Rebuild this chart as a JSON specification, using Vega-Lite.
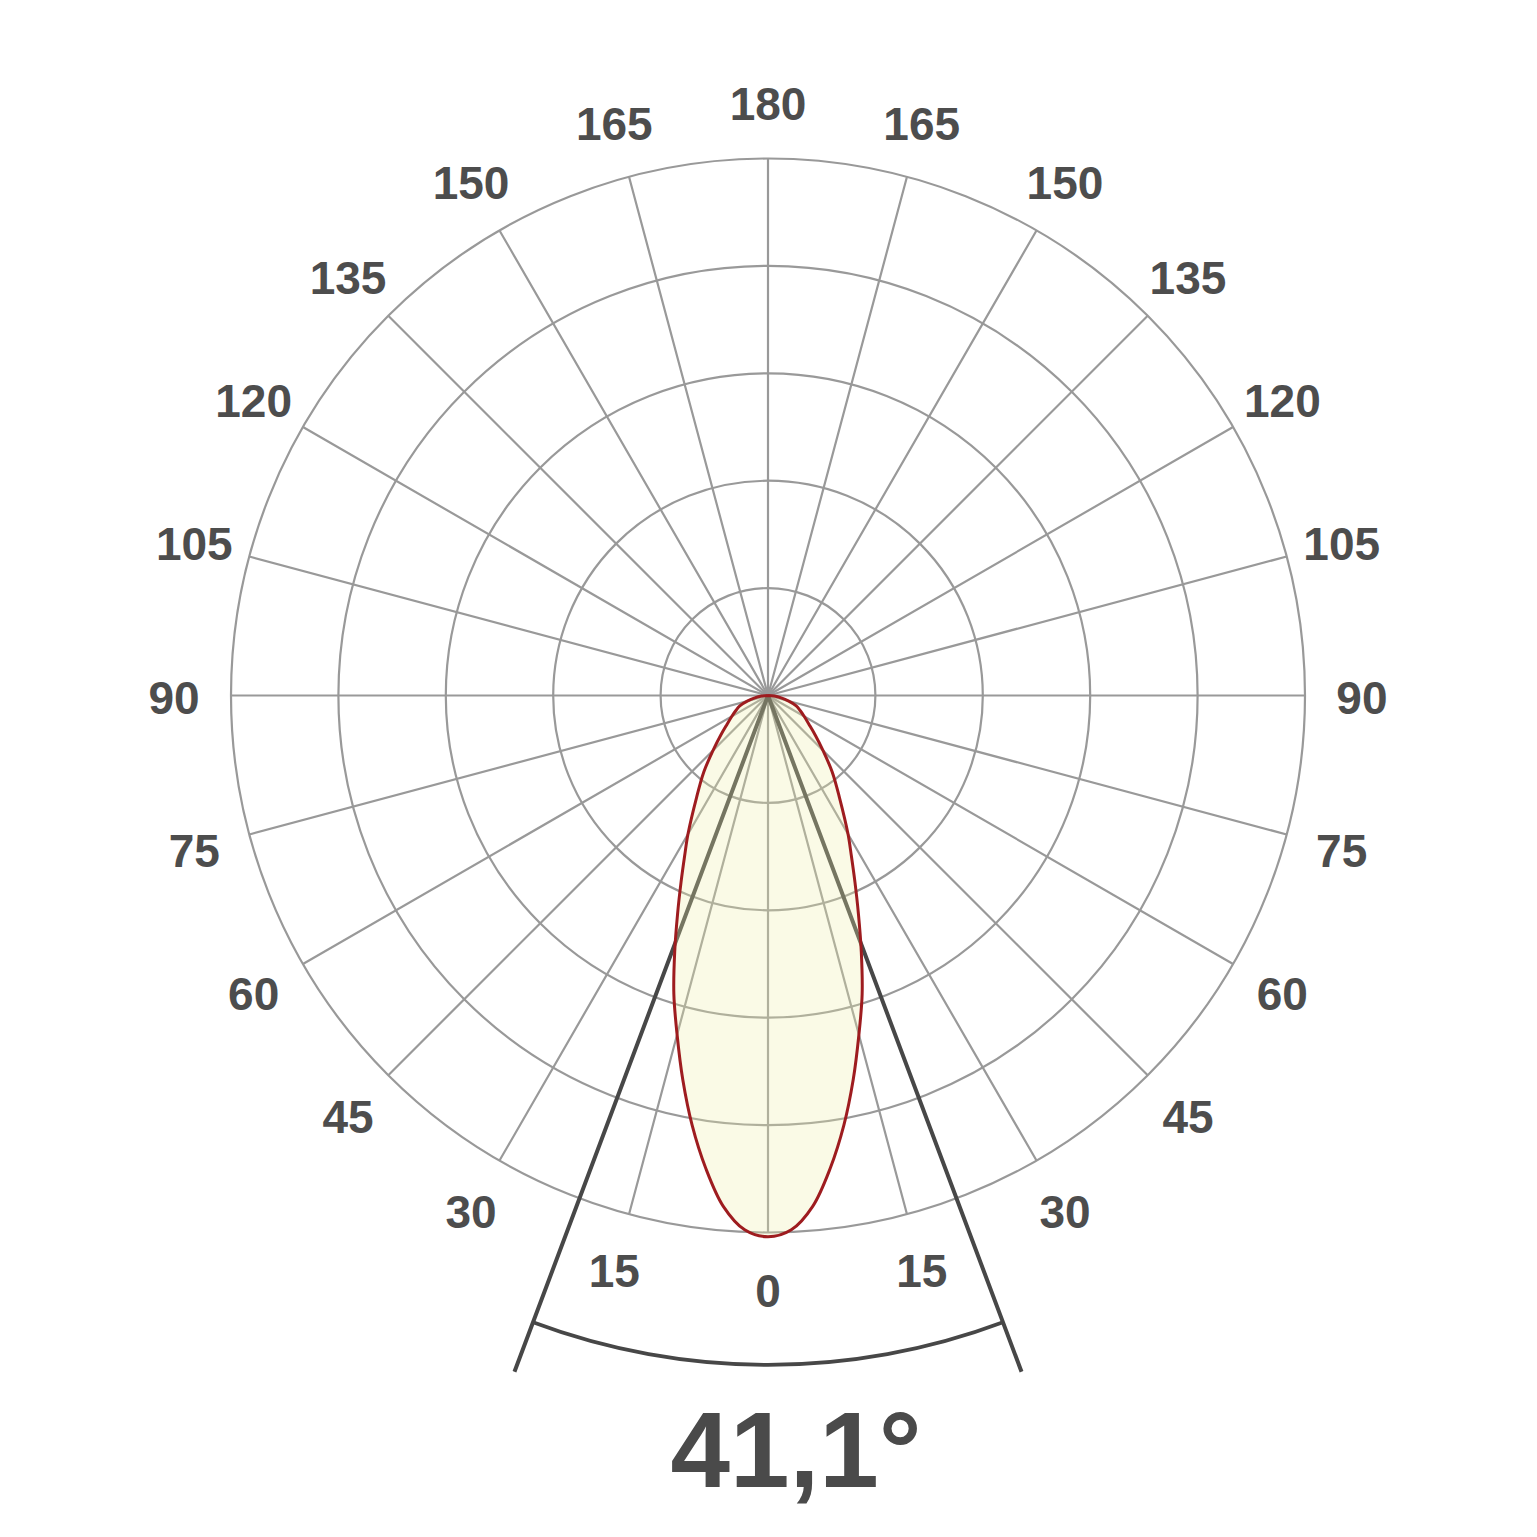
{
  "$schema": "https://vega.github.io/schema/vega-lite/v6.json",
  "width": 1536,
  "height": 1391,
  "autosize": {"type": "none"},
  "padding": {"left": 0, "top": 0, "right": 1, "bottom": 146},
  "background": "white",
  "config": {"view": {"stroke": null}},
  "datasets": {
    "rings": [{"r": 20}, {"r": 40}, {"r": 60}, {"r": 80}, {"r": 100}],
    "spokes": [
      {"g": -165}, {"g": -150}, {"g": -135}, {"g": -120}, {"g": -105}, {"g": -90},
      {"g": -75}, {"g": -60}, {"g": -45}, {"g": -30}, {"g": -15}, {"g": 0},
      {"g": 15}, {"g": 30}, {"g": 45}, {"g": 60}, {"g": 75}, {"g": 90},
      {"g": 105}, {"g": 120}, {"g": 135}, {"g": 150}, {"g": 165}, {"g": 180}
    ],
    "labels": [
      {"g": 0, "label": "0"}, {"g": 15, "label": "15"}, {"g": 30, "label": "30"},
      {"g": 45, "label": "45"}, {"g": 60, "label": "60"}, {"g": 75, "label": "75"},
      {"g": 90, "label": "90"}, {"g": 105, "label": "105"}, {"g": 120, "label": "120"},
      {"g": 135, "label": "135"}, {"g": 150, "label": "150"}, {"g": 165, "label": "165"},
      {"g": 180, "label": "180"},
      {"g": -15, "label": "15"}, {"g": -30, "label": "30"}, {"g": -45, "label": "45"},
      {"g": -60, "label": "60"}, {"g": -75, "label": "75"}, {"g": -90, "label": "90"},
      {"g": -105, "label": "105"}, {"g": -120, "label": "120"}, {"g": -135, "label": "135"},
      {"g": -150, "label": "150"}, {"g": -165, "label": "165"}
    ],
    "beam": [{"g": -20.55}, {"g": 20.55}],
    "beamLabel": [{"text": "41,1°"}],
    "lobe": [
      {"g": -90, "cd": 0}, {"g": -85, "cd": 1.2}, {"g": -80, "cd": 2.5}, {"g": -75, "cd": 4.0},
      {"g": -70, "cd": 5.6}, {"g": -65, "cd": 6.6}, {"g": -60, "cd": 7.8}, {"g": -55, "cd": 9.3},
      {"g": -50, "cd": 11.5}, {"g": -45, "cd": 14.5}, {"g": -40, "cd": 18.6}, {"g": -35, "cd": 23.2},
      {"g": -30, "cd": 29.8}, {"g": -27.5, "cd": 33.6}, {"g": -25, "cd": 38.3}, {"g": -22.5, "cd": 44.0},
      {"g": -20, "cd": 50.8}, {"g": -17.5, "cd": 58.3}, {"g": -15, "cd": 65.4}, {"g": -12.5, "cd": 73.3},
      {"g": -10, "cd": 81.3}, {"g": -7.5, "cd": 88.8}, {"g": -5, "cd": 95.5}, {"g": -2.5, "cd": 99.6},
      {"g": 0, "cd": 100.8},
      {"g": 2.5, "cd": 99.6}, {"g": 5, "cd": 95.5}, {"g": 7.5, "cd": 88.8}, {"g": 10, "cd": 81.3},
      {"g": 12.5, "cd": 73.3}, {"g": 15, "cd": 65.4}, {"g": 17.5, "cd": 58.3}, {"g": 20, "cd": 50.8},
      {"g": 22.5, "cd": 44.0}, {"g": 25, "cd": 38.3}, {"g": 27.5, "cd": 33.6}, {"g": 30, "cd": 29.8},
      {"g": 35, "cd": 23.2}, {"g": 40, "cd": 18.6}, {"g": 45, "cd": 14.5}, {"g": 50, "cd": 11.5},
      {"g": 55, "cd": 9.3}, {"g": 60, "cd": 7.8}, {"g": 65, "cd": 6.6}, {"g": 70, "cd": 5.6},
      {"g": 75, "cd": 4.0}, {"g": 80, "cd": 2.5}, {"g": 85, "cd": 1.2}, {"g": 90, "cd": 0}
    ]
  },
  "layer": [
    {
      "data": {"name": "rings"},
      "mark": {"type": "arc", "filled": false, "stroke": "#999999", "strokeWidth": 2.2},
      "encoding": {
        "theta": {"datum": -180, "type": "quantitative", "stack": null, "scale": {"type": "linear", "domain": [-180, 180], "range": [6.283185307179586, 0]}},
        "theta2": {"datum": 180},
        "radius": {"field": "r", "type": "quantitative", "stack": null, "scale": {"type": "linear", "domain": [0, 100], "range": [0, 537], "zero": true, "nice": false}}
      }
    },
    {
      "data": {"name": "spokes"},
      "mark": {"type": "arc", "filled": false, "stroke": "#999999", "strokeWidth": 2.2},
      "encoding": {
        "theta": {"field": "g", "type": "quantitative", "stack": null, "scale": {"type": "linear", "domain": [-180, 180], "range": [6.283185307179586, 0]}},
        "theta2": {"field": "g"},
        "radius": {"datum": 100, "type": "quantitative", "stack": null, "scale": {"type": "linear", "domain": [0, 100], "range": [0, 537], "zero": true, "nice": false}}
      }
    },
    {
      "data": {"name": "beam"},
      "mark": {"type": "arc", "filled": false, "stroke": "#474747", "strokeWidth": 4},
      "encoding": {
        "theta": {"field": "g", "type": "quantitative", "stack": null, "scale": {"type": "linear", "domain": [-180, 180], "range": [6.283185307179586, 0]}},
        "theta2": {"field": "g"},
        "radius": {"datum": 134.5, "type": "quantitative", "stack": null, "scale": {"type": "linear", "domain": [0, 100], "range": [0, 537], "zero": true, "nice": false}}
      }
    },
    {
      "data": {"name": "lobe"},
      "transform": [
        {"calculate": "datum.cd * sin(datum.g * PI / 180)", "as": "px"},
        {"calculate": "-datum.cd * cos(datum.g * PI / 180)", "as": "py"}
      ],
      "mark": {"type": "line", "interpolate": "catmull-rom", "fill": "#ededa4", "fillOpacity": 0.28, "stroke": "#9e1c1f", "strokeWidth": 3},
      "encoding": {
        "x": {"field": "px", "type": "quantitative", "axis": null, "scale": {"domain": [-143.017, 143.017], "nice": false, "zero": false}},
        "y": {"field": "py", "type": "quantitative", "axis": null, "scale": {"domain": [-129.516, 129.516], "nice": false, "zero": false}},
        "order": {"field": "g", "type": "quantitative"}
      }
    },
    {
      "data": {"name": "beamLabel"},
      "mark": {"type": "arc", "fill": "#474747", "stroke": null},
      "encoding": {
        "theta": {"datum": -20.55, "type": "quantitative", "stack": null, "scale": {"type": "linear", "domain": [-180, 180], "range": [6.283185307179586, 0]}},
        "theta2": {"datum": 20.55},
        "radius": {"datum": 125.0, "type": "quantitative", "stack": null, "scale": {"type": "linear", "domain": [0, 100], "range": [0, 537], "zero": true, "nice": false}},
        "radius2": {"datum": 124.3}
      }
    },
    {
      "data": {"name": "labels"},
      "mark": {"type": "text", "font": "Liberation Sans", "fontWeight": "bold", "fontSize": 46, "fill": "#4d4d4d", "align": "center", "baseline": "middle", "dy": 4},
      "encoding": {
        "theta": {"field": "g", "type": "quantitative", "stack": null, "scale": {"type": "linear", "domain": [-180, 180], "range": [6.283185307179586, 0]}},
        "radius": {"datum": 110.6, "type": "quantitative", "stack": null, "scale": {"type": "linear", "domain": [0, 100], "range": [0, 537], "zero": true, "nice": false}},
        "text": {"field": "label"}
      }
    },
    {
      "data": {"name": "beamLabel"},
      "mark": {"type": "text", "font": "Liberation Sans", "fontWeight": "bold", "fontSize": 107, "fill": "#4a4a4a", "align": "center", "baseline": "alphabetic", "dx": 28},
      "encoding": {
        "theta": {"datum": 0, "type": "quantitative", "stack": null, "scale": {"type": "linear", "domain": [-180, 180], "range": [6.283185307179586, 0]}},
        "radius": {"datum": 147.4, "type": "quantitative", "stack": null, "scale": {"type": "linear", "domain": [0, 100], "range": [0, 537], "zero": true, "nice": false}},
        "text": {"field": "text"}
      }
    }
  ]
}
